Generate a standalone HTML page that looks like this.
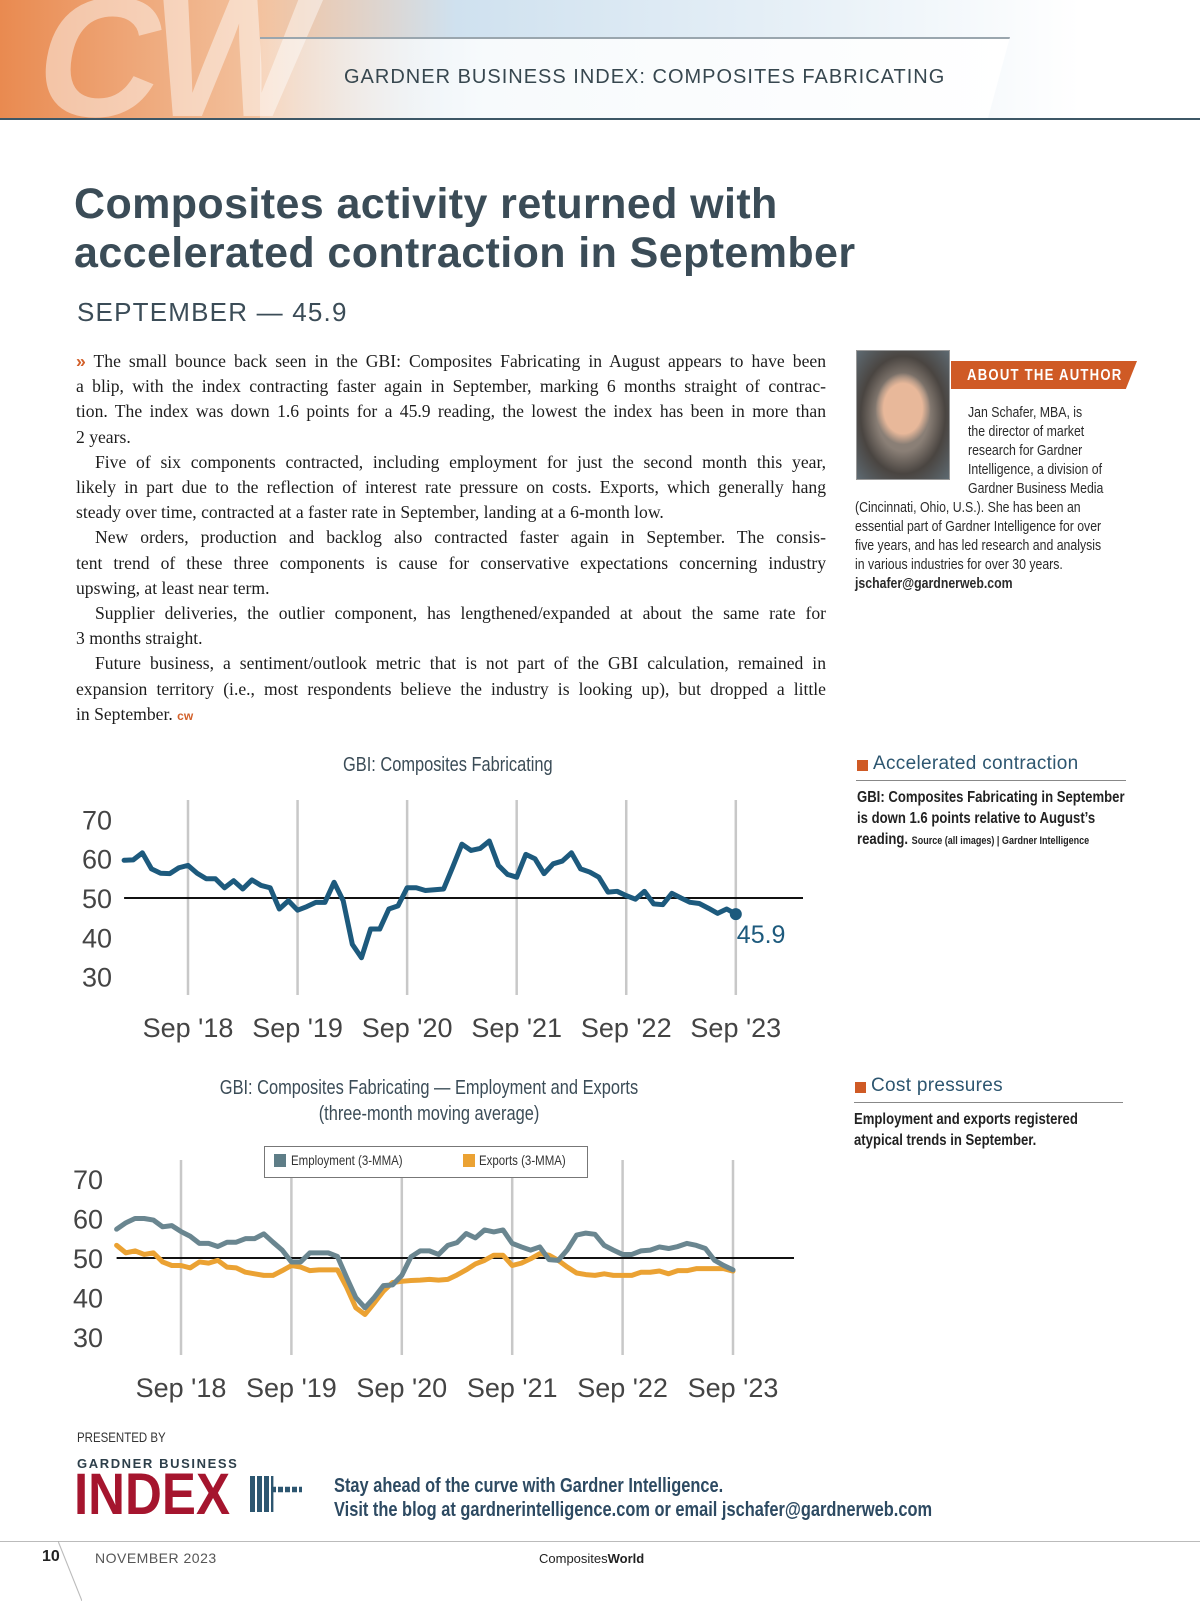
<!DOCTYPE html>
<html><head><meta charset="utf-8"><style>
body{margin:0;width:1200px;height:1600px;position:relative;background:#fff;overflow:hidden;font-family:"Liberation Sans",sans-serif;}
.a{position:absolute;}
.n{font-family:"Liberation Sans Narrow","Liberation Sans",sans-serif;transform:scaleX(0.82);transform-origin:0 0;white-space:nowrap;}
.body{left:76px;top:349px;width:750px;font-family:"Liberation Serif",serif;font-size:17.6px;line-height:25.2px;color:#1d1d1d;}
.body div{white-space:nowrap;}
.body .j{text-align:justify;text-align-last:justify;white-space:normal;}
.ind{padding-left:19px;}
</style></head><body>
<div class="a" style="left:0;top:0;width:1200px;height:118px;background:linear-gradient(90deg,#e98a50 0%,#f3c3a0 22%,#cfe1ef 38%,#eaf2f8 70%,#fff 90%);"></div>
<div class="a" style="left:40px;top:-40px;font-size:170px;font-weight:bold;color:rgba(255,255,255,0.45);letter-spacing:-10px;transform:skewX(-10deg);">CW</div>
<div class="a" style="left:260px;top:37px;width:750px;height:81px;background:linear-gradient(90deg,rgba(255,255,255,0.3),#f7fafc 30%,#fff);border-top:2px solid #9aa6ae;clip-path:polygon(0 0,100% 0,97% 100%,0 100%);"></div>
<div class="a" style="left:344px;top:66px;font-size:20px;letter-spacing:1px;color:#37474f;">GARDNER BUSINESS INDEX: COMPOSITES FABRICATING</div>
<div class="a" style="left:0;top:118px;width:1200px;height:2px;background:#3d5766;"></div>

<div class="a" style="left:74px;top:180px;font-size:43px;font-weight:bold;line-height:49px;color:#3b4c57;letter-spacing:0.4px;">Composites activity returned with<br>accelerated contraction in September</div>
<div class="a" style="left:77px;top:297px;font-size:26px;letter-spacing:1.2px;color:#3b4c57;">SEPTEMBER — 45.9</div>

<div class="a body">
<div class="j"><span style="color:#d2602a;font-family:'Liberation Sans';font-weight:bold">»</span> The small bounce back seen in the GBI: Composites Fabricating in August appears to have been</div>
<div class="j">a blip, with the index contracting faster again in September, marking 6 months straight of contrac-</div>
<div class="j">tion. The index was down 1.6 points for a 45.9 reading, the lowest the index has been in more than</div>
<div>2 years.</div>
<div class="j ind">Five of six components contracted, including employment for just the second month this year,</div>
<div class="j">likely in part due to the reflection of interest rate pressure on costs. Exports, which generally hang</div>
<div>steady over time, contracted at a faster rate in September, landing at a 6-month low.</div>
<div class="j ind">New orders, production and backlog also contracted faster again in September. The consis-</div>
<div class="j">tent trend of these three components is cause for conservative expectations concerning industry</div>
<div>upswing, at least near term.</div>
<div class="j ind">Supplier deliveries, the outlier component, has lengthened/expanded at about the same rate for</div>
<div>3 months straight.</div>
<div class="j ind">Future business, a sentiment/outlook metric that is not part of the GBI calculation, remained in</div>
<div class="j">expansion territory (i.e., most respondents believe the industry is looking up), but dropped a little</div>
<div>in September. <span style="color:#d2602a;font-family:'Liberation Sans';font-weight:bold;font-size:12px">cw</span></div>
</div>

<div class="a" style="left:856px;top:350px;width:92px;height:128px;background:radial-gradient(ellipse 30% 28% at 50% 45%,#e8b89a 0 70%,transparent 100%),radial-gradient(ellipse at 50% 50%,#8a7f76 0 40%,#4a4541 65%,#5e6a72 100%);border:1px solid #999;"></div>
<div class="a" style="left:951px;top:361px;width:186px;height:28px;background:#cf5a25;clip-path:polygon(0 0,100% 0,94% 100%,0 100%);"></div>
<div class="a n" style="left:967px;top:367px;color:#fff;font-size:16px;font-weight:bold;letter-spacing:1.5px;">ABOUT THE AUTHOR</div>
<div class="a n" style="left:968px;top:403px;font-size:15px;line-height:19px;color:#2a2a2a;">Jan Schafer, MBA, is<br>the director of market<br>research for Gardner<br>Intelligence, a division of<br>Gardner Business Media</div>
<div class="a n" style="left:855px;top:498px;font-size:15px;line-height:19px;color:#2a2a2a;">(Cincinnati, Ohio, U.S.). She has been an<br>essential part of Gardner Intelligence for over<br>five years, and has led research and analysis<br>in various industries for over 30 years.<br><b>jschafer@gardnerweb.com</b></div>

<div class="a n" style="left:343px;top:754px;font-size:20px;color:#3b4c57;">GBI: Composites Fabricating</div>
<div class="a" style="left:857px;top:760px;width:11px;height:11px;background:#cf5a25;"></div>
<div class="a" style="left:873px;top:753px;font-size:19px;color:#2d5670;letter-spacing:0.3px;">Accelerated contraction</div>
<div class="a" style="left:856px;top:780px;width:270px;height:1px;background:#888;"></div>
<div class="a n" style="left:857px;top:787px;font-size:16px;line-height:21px;color:#222;font-weight:bold;">GBI: Composites Fabricating in September<br>is down 1.6 points relative to August’s<br>reading. <span style="font-size:11px;">Source (all images) | Gardner Intelligence</span></div>

<div class="a n" style="left:169px;top:1075px;width:520px;text-align:center;font-size:20px;line-height:26px;color:#3b4c57;transform-origin:50% 0;">GBI: Composites Fabricating — Employment and Exports<br>(three-month moving average)</div>
<div class="a" style="left:855px;top:1082px;width:11px;height:11px;background:#cf5a25;"></div>
<div class="a" style="left:871px;top:1075px;font-size:19px;color:#2d5670;letter-spacing:0.3px;">Cost pressures</div>
<div class="a" style="left:854px;top:1102px;width:269px;height:1px;background:#888;"></div>
<div class="a n" style="left:854px;top:1109px;font-size:16px;line-height:21px;color:#222;font-weight:bold;">Employment and exports registered<br>atypical trends in September.</div>

<svg class="a" id="charts" style="left:0;top:0" width="1200" height="1600"></svg>

<div class="a" style="left:264px;top:1146px;width:322px;height:30px;border:1px solid #777;background:#fff;"></div>
<div class="a" style="left:274px;top:1154px;width:12px;height:13px;background:#5e7d87;"></div>
<div class="a n" style="left:291px;top:1152px;font-size:14px;color:#333;">Employment (3-MMA)</div>
<div class="a" style="left:463px;top:1154px;width:12px;height:13px;background:#eba233;"></div>
<div class="a n" style="left:479px;top:1152px;font-size:14px;color:#333;">Exports (3-MMA)</div>

<div class="a n" style="left:77px;top:1429px;font-size:14px;color:#333;">PRESENTED BY</div>
<div class="a" style="left:77px;top:1456px;font-size:13px;font-weight:bold;letter-spacing:1.6px;color:#2d3f4a;">GARDNER BUSINESS</div>
<div class="a n" style="left:74px;top:1466px;font-size:58px;font-weight:bold;color:#a5152e;line-height:58px;transform:scaleX(0.88);">INDEX</div>
<div class="a" style="left:250px;top:1476px;width:52px;height:36px;background:repeating-linear-gradient(90deg,#2d5670 0 5px,transparent 5px 7px),repeating-linear-gradient(0deg,#fff 0 2px,transparent 2px 7px);clip-path:polygon(0 0,45% 0,45% 30%,100% 30%,100% 45%,45% 45%,45% 100%,0 100%);"></div>
<div class="a n" style="left:334px;top:1474px;font-size:20px;line-height:24px;color:#2d4a62;font-weight:bold;">Stay ahead of the curve with Gardner Intelligence.<br>Visit the blog at gardnerintelligence.com or email jschafer@gardnerweb.com</div>

<div class="a" style="left:0;top:1541px;width:1200px;height:1px;background:#bbb;"></div>
<div class="a" style="left:58px;top:1541px;width:24px;height:60px;background:linear-gradient(to top right,transparent 48%,#aaa 50%,transparent 52%);"></div>
<div class="a" style="left:42px;top:1548px;font-size:16px;font-weight:bold;color:#222;">10</div>
<div class="a" style="left:95px;top:1550px;font-size:14px;letter-spacing:0.5px;color:#555;">NOVEMBER 2023</div>
<div class="a" style="left:539px;top:1551px;font-size:13px;color:#222;">Composites<b>World</b></div>

<script>
const monthsStart = "Feb 2018";
const gbi = [59.6,59.7,61.5,57.4,56.3,56.2,57.7,58.3,56.3,54.9,54.9,52.6,54.4,52.3,54.6,53.2,52.6,47.2,49.3,46.9,47.8,48.9,48.9,54.0,49.3,38.2,34.8,42.1,42.1,47.2,48.0,52.6,52.6,51.9,52.1,52.3,57.9,63.7,62.1,62.6,64.5,58.3,56.0,55.3,61.1,60.0,56.2,58.7,59.4,61.5,57.4,56.6,55.3,51.5,51.7,50.6,49.7,51.7,48.5,48.3,51.2,50.0,48.9,48.6,47.4,46.1,47.2,45.9];
const employment = [57.3,58.9,60.0,60.0,59.6,57.9,58.2,56.7,55.5,53.7,53.7,52.9,54.0,54.0,54.9,54.9,56.1,54.0,52.0,49.0,49.0,51.3,51.3,51.3,50.4,45.1,40.0,37.4,40.0,43.0,43.2,45.6,50.3,51.8,51.8,50.9,53.2,53.9,56.2,55.1,57.1,56.6,57.1,53.7,52.8,52.0,52.8,49.6,49.4,52.1,55.8,56.3,56.0,53.2,52.0,50.9,50.9,51.8,52.0,52.8,52.4,52.9,53.7,53.2,52.4,49.4,48.1,47.0];
const exportsIdx = [53.2,51.3,51.8,50.9,51.3,49.0,48.1,48.1,47.5,49.0,48.7,49.4,47.7,47.5,46.4,46.0,45.6,45.6,46.8,48.1,47.7,46.8,47.0,47.0,47.0,42.6,37.4,35.7,38.6,41.6,43.8,44.1,44.3,44.4,44.6,44.4,44.6,45.7,47.0,48.5,49.4,50.7,50.7,48.1,48.7,49.8,51.1,50.7,49.4,47.7,46.2,45.8,45.6,46.0,45.6,45.6,45.6,46.4,46.4,46.7,46.0,46.8,46.8,47.3,47.3,47.3,47.3,46.7];
const yTicks = [70,60,50,40,30];
const xTickLabels = ["Sep '18","Sep '19","Sep '20","Sep '21","Sep '22","Sep '23"];
const xTickIndex = [7,19,31,43,55,67];
const lastLabel = "45.9";

const NS="http://www.w3.org/2000/svg";
const svg=document.getElementById('charts');
function mk(tag,attrs,parent){const e=document.createElementNS(NS,tag);for(const k in attrs)e.setAttribute(k,attrs[k]);(parent||svg).appendChild(e);return e;}

function drawChart(cfg){
  const g=mk('g',{});
  
  
  const x=i=>cfg.x0+(i-xTickIndex[0])*cfg.xStep;
  const y=v=>cfg.y50-(v-50)*cfg.yUnit;
  xTickIndex.forEach((ti,k)=>{
    const gl=mk('line',{x1:x(ti),x2:x(ti),y1:cfg.gridTop,y2:cfg.gridBot,stroke:'#c8c8c8','stroke-width':2.5},g);
    
    
    const t=mk('text',{x:x(ti),y:cfg.labelY,'text-anchor':'middle','font-size':27,fill:'#444','font-family':'Liberation Sans, sans-serif'},g);
    t.textContent=xTickLabels[k];
    
    
  });
  yTicks.forEach(v=>{
    const t=mk('text',{x:cfg.yLabelX,y:y(v)+10,'font-size':27,fill:'#444','font-family':'Liberation Sans, sans-serif'},g);
    t.textContent=v;
    
    
  });
  const base=mk('line',{x1:x(0),x2:cfg.baseEnd,y1:y(50),y2:y(50),stroke:'#111','stroke-width':2},g);
  
  
  cfg.series.forEach(s=>{
    const p=mk('polyline',{points:s.data.map((v,i)=>x(i)+','+y(v)).join(' '),fill:'none',stroke:s.color,'stroke-width':5,'stroke-linejoin':'round','stroke-linecap':'round'},g);
    
    
  });
  return {x,y,g};
}
const c1=drawChart({name:'chart-gbi',x0:188,xStep:9.13,y50:898,yUnit:3.93,gridTop:800,gridBot:995,labelY:1037,yLabelX:82,baseEnd:803,
  series:[{name:'gbi-line',data:gbi,color:'#1d5a7d'}]});
const li=gbi.length-1;
const dot=mk('circle',{cx:c1.x(li),cy:c1.y(gbi[li]),r:6,fill:'#1d5a7d'},c1.g);


const ll=mk('text',{x:c1.x(li)+1,y:c1.y(gbi[li])+29,'font-size':25,fill:'#1d5a7d','font-family':'Liberation Sans, sans-serif'},c1.g);
ll.textContent=lastLabel;



drawChart({name:'chart-employment-exports',x0:181,xStep:9.2,y50:1258,yUnit:3.95,gridTop:1160,gridBot:1355,labelY:1397,yLabelX:73,baseEnd:794,
  series:[{name:'exports-line',data:exportsIdx,color:'#eba233'},{name:'employment-line',data:employment,color:'#6a8690'}]});
</script>
</body></html>
